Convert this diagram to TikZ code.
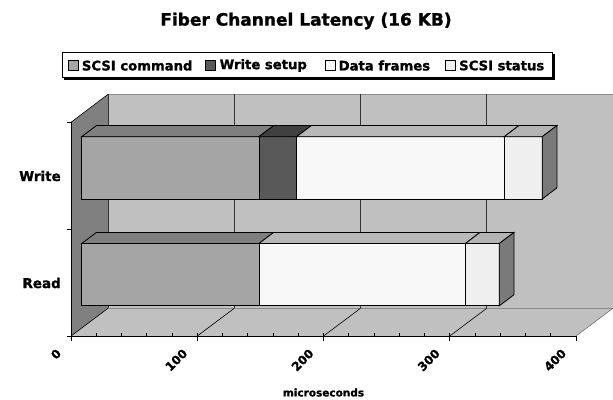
\documentclass[tikz,border=0pt]{standalone}
\usepackage{fontspec}
\setmainfont{DejaVu Sans}[BoldFeatures={FakeBold=1.2}]
\definecolor{wallc}{HTML}{C0C0C0}
\definecolor{leftc}{HTML}{808080}
\definecolor{cmdF}{HTML}{A5A5A5}
\definecolor{cmdT}{HTML}{7F7F7F}
\definecolor{setF}{HTML}{595959}
\definecolor{setT}{HTML}{404040}
\definecolor{datF}{HTML}{F8F8F8}
\definecolor{datT}{HTML}{B8B8B8}
\definecolor{staF}{HTML}{EFEFEF}
\definecolor{staT}{HTML}{B4B4B4}
\definecolor{staS}{HTML}{7A7A7A}
\newcommand\barseg[5]{%
  \filldraw[barline, fill=#4] ({81.7+1.2625*#2},#1) rectangle ({81.7+1.2625*#3},{#1+62.3});
  \filldraw[barline, fill=#5] ({81.7+1.2625*#2},#1) -- ++(14.7,-11.1) -- ({96.4+1.2625*#3},{#1-11.1}) -- ({81.7+1.2625*#3},#1) -- cycle;}
\newcommand\barside[3]{%
  \filldraw[barline, fill=#3] ({81.7+1.2625*#2},#1) -- ++(14.7,-11.1) -- ++(0,62.3) -- ({81.7+1.2625*#2},{#1+62.3}) -- cycle;}
\begin{document}
\begin{tikzpicture}[x=1pt,y=-1pt,
  barline/.style={draw=black, line width=0.8pt, line join=miter},
  grid/.style={draw=black!80, line width=0.7pt},
  edge/.style={draw=black!45, line width=0.6pt},
  axisline/.style={draw=black, line width=0.8pt},
  ticklab/.style={font=\bfseries\fontsize{12}{12}\selectfont, rotate=45, anchor=east, inner sep=0pt},
  catlab/.style={font=\bfseries\fontsize{13.5}{13.5}\selectfont, anchor=east, inner sep=0pt},
  legtext/.style={font=\bfseries\fontsize{13.2}{13.2}\selectfont, anchor=west, inner sep=0pt},
  legbox/.style={draw=black, line width=0.6pt}]
\useasboundingbox (0,0) rectangle (613,399);
% title
\node[font=\bfseries\fontsize{17}{17}\selectfont] (title) at (306,21) {Fiber Channel Latency (16 KB)};
% legend
\draw[line width=1.6pt] (554.2,54) -- (554.2,79.2) -- (64,79.2);
\draw[legbox, fill=white] (62.7,52.5) rectangle (552.7,77.5);
\filldraw[legbox, fill=cmdF] (68.3,60) rectangle (78.3,70);
\node[legtext] (l1) at (81.7,65.5) {SCSI command};
\filldraw[legbox, fill=setF] (205.7,60) rectangle (215.7,70);
\node[legtext] (l2) at (219.5,65.5) {Write setup};
\filldraw[legbox, fill=datF] (325,60) rectangle (335,70);
\node[legtext] (l3) at (338.5,65.5) {Data frames};
\filldraw[legbox, fill=staF] (445.5,60) rectangle (455.5,70);
\node[legtext] (l4) at (459,65.5) {SCSI status};
% walls
\fill[wallc] (108,94.3) rectangle (613,308.3);
\fill[wallc] (71,336) -- (576,336) -- (613,308.3) -- (108,308.3) -- cycle;
\fill[leftc] (71,122.3) -- (108,94.3) -- (108,308.3) -- (71,336) -- cycle;
\draw[edge] (108,94.3) -- (613,94.3);
\draw[edge] (108,308.3) -- (613,308.3);
\draw[edge, draw=black!55] (576,336) -- (613,308.3);
\draw[grid] (108,94.3) -- (108,308.3);
\draw[axisline, line width=0.6pt] (71,122.3) -- (108,94.3);
\draw[axisline, line width=0.6pt] (71,336) -- (108,308.3);
\foreach \k in {1,2,3} {
  \draw[grid] ({108+126.25*\k},94.3) -- ({108+126.25*\k},308.3);
  \draw[black, line width=0.6pt] ({71+126.25*\k},336) -- ({108+126.25*\k},308.3);
}
% write bar
\barseg{136.65}{0}{140.4}{cmdF}{cmdT}
\barseg{136.65}{140.4}{170.3}{setF}{setT}
\barseg{136.65}{170.3}{334.7}{datF}{datT}
\barseg{136.65}{334.7}{364.8}{staF}{staT}
\barside{136.65}{364.8}{staS}
% read bar
\barseg{243.5}{0}{140.4}{cmdF}{cmdT}
\barseg{243.5}{140.4}{303.9}{datF}{datT}
\barseg{243.5}{303.9}{330.8}{staF}{staT}
\barside{243.5}{330.8}{staS}
% axes
\draw[axisline] (71,122.3) -- (71,336) -- (576,336);
\foreach \y in {122.3,229.5,336} \draw[axisline] (67,\y) -- (71,\y);
\foreach \k in {0,...,4} \draw[axisline] ({71+126.25*\k},336) -- ({71+126.25*\k},340.5);
\foreach \k in {1,...,19} \draw[black, line width=0.6pt] ({71+25.25*\k},333.3) -- ({71+25.25*\k},336);
\node[ticklab] (t0) at (59,351) {0};
\node[ticklab] (t1) at (185.2,351) {100};
\node[ticklab] (t2) at (311.5,351) {200};
\node[ticklab] (t3) at (437.7,351) {300};
\node[ticklab] (t4) at (564,351) {400};
\node[catlab] (cw) at (61,176) {Write};
\node[catlab] (cr) at (61,283) {Read};
\node[font=\bfseries\fontsize{10.5}{10.5}\selectfont] (xl) at (323.5,392.5) {microseconds};
\end{tikzpicture}
\end{document}
